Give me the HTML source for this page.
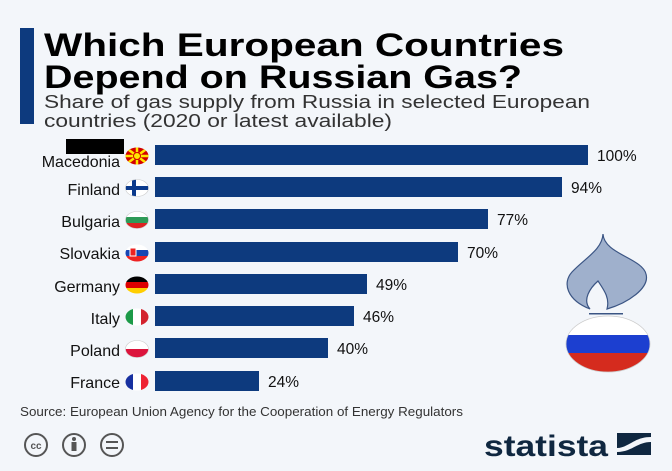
<!DOCTYPE html>
<html><head><meta charset="utf-8"><style>
html,body{margin:0;padding:0;background:#f3f6fa;}
body{width:672px;height:471px;overflow:hidden;position:relative;font-family:"Liberation Sans",sans-serif;}
</style></head><body>
<svg width="672" height="471" xmlns="http://www.w3.org/2000/svg" style="position:absolute;left:0;top:0">
<defs>
<clipPath id="e"><ellipse cx="0" cy="0" rx="11.5" ry="8.5"/></clipPath>
</defs>
<rect width="672" height="471" fill="#f3f6fa"/>
<rect x="20" y="28" width="14" height="96" fill="#0d3a7e"/>
<text x="44" y="56" font-size="32" font-weight="bold" fill="#000" textLength="520" lengthAdjust="spacingAndGlyphs">Which European Countries</text>
<text x="44" y="88" font-size="32" font-weight="bold" fill="#000" textLength="478" lengthAdjust="spacingAndGlyphs">Depend on Russian Gas?</text>
<text x="44" y="108" font-size="18.5" fill="#333" textLength="546" lengthAdjust="spacingAndGlyphs">Share of gas supply from Russia in selected European</text>
<text x="44" y="127" font-size="18.5" fill="#333" textLength="348" lengthAdjust="spacingAndGlyphs">countries (2020 or latest available)</text>
<rect x="66" y="139" width="58" height="15" fill="#000"/>
<g font-size="16" fill="#111">
<text x="120" y="167" text-anchor="end">Macedonia</text>
<text x="120" y="195" text-anchor="end">Finland</text>
<text x="120" y="227" text-anchor="end">Bulgaria</text>
<text x="120" y="259" text-anchor="end">Slovakia</text>
<text x="120" y="292" text-anchor="end">Germany</text>
<text x="120" y="324" text-anchor="end">Italy</text>
<text x="120" y="356" text-anchor="end">Poland</text>
<text x="120" y="388" text-anchor="end">France</text>
</g>
<g fill="#0d3a7e">
<rect x="155" y="145" width="433" height="20"/>
<rect x="155" y="177" width="407" height="20"/>
<rect x="155" y="209" width="333" height="20"/>
<rect x="155" y="242" width="303" height="20"/>
<rect x="155" y="274" width="212" height="20"/>
<rect x="155" y="306" width="199" height="20"/>
<rect x="155" y="338" width="173" height="20"/>
<rect x="155" y="371" width="104" height="20"/>
</g>
<g font-size="15.5" fill="#111">
<text x="597" y="161">100%</text>
<text x="571" y="193">94%</text>
<text x="497" y="225">77%</text>
<text x="467" y="258">70%</text>
<text x="376" y="290">49%</text>
<text x="363" y="322">46%</text>
<text x="337" y="354">40%</text>
<text x="268" y="387">24%</text>
</g>
<g transform="translate(137,156)"><g clip-path="url(#e)"><rect x="-12" y="-9" width="24" height="18" fill="#d20000"/><g stroke="#ffe600" stroke-width="2.5"><line x1="-12" y1="0" x2="12" y2="0"/><line x1="0" y1="-9" x2="0" y2="9"/><line x1="-12" y1="-9" x2="12" y2="9"/><line x1="-12" y1="9" x2="12" y2="-9"/></g><circle r="3.5" fill="#ffe600" stroke="#d20000"/></g></g>
<g transform="translate(137,188)"><g clip-path="url(#e)"><rect x="-12" y="-9" width="24" height="18" fill="#fff"/><rect x="-12" y="-2" width="24" height="4" fill="#0b3a8c"/><rect x="-5" y="-9" width="4" height="18" fill="#0b3a8c"/></g><ellipse rx="11.5" ry="8.5" fill="none" stroke="#ccc" stroke-width=".6"/></g>
<g transform="translate(137,220)"><g clip-path="url(#e)"><rect x="-12" y="-9" width="24" height="6" fill="#fff"/><rect x="-12" y="-3" width="24" height="6" fill="#2e9a57"/><rect x="-12" y="3" width="24" height="6" fill="#d22"/></g><ellipse rx="11.5" ry="8.5" fill="none" stroke="#ccc" stroke-width=".6"/></g>
<g transform="translate(137,253)"><g clip-path="url(#e)"><rect x="-12" y="-9" width="24" height="6" fill="#fff"/><rect x="-12" y="-3" width="24" height="6" fill="#1646b4"/><rect x="-12" y="3" width="24" height="6" fill="#e22"/><rect x="-7" y="-5" width="6" height="8" fill="#e22" stroke="#fff"/></g></g>
<g transform="translate(137,285)"><g clip-path="url(#e)"><rect x="-12" y="-9" width="24" height="6" fill="#000"/><rect x="-12" y="-3" width="24" height="6" fill="#dd0000"/><rect x="-12" y="3" width="24" height="6" fill="#ffce00"/></g></g>
<g transform="translate(137,317)"><g clip-path="url(#e)"><rect x="-12" y="-9" width="8" height="18" fill="#1c9a48"/><rect x="-4" y="-9" width="8" height="18" fill="#fff"/><rect x="4" y="-9" width="8" height="18" fill="#d3232e"/></g></g>
<g transform="translate(137,349)"><g clip-path="url(#e)"><rect x="-12" y="-9" width="24" height="9" fill="#fff"/><rect x="-12" y="0" width="24" height="9" fill="#dc143c"/></g><ellipse rx="11.5" ry="8.5" fill="none" stroke="#ccc" stroke-width=".6"/></g>
<g transform="translate(137,382)"><g clip-path="url(#e)"><rect x="-12" y="-9" width="8" height="18" fill="#1730a0"/><rect x="-4" y="-9" width="8" height="18" fill="#fff"/><rect x="4" y="-9" width="8" height="18" fill="#ee2233"/></g></g>
<path d="M603,234 C602,250 585,258 572,272 C562,283 567,300 590,309 C582,300 590,288 598,281 C604,290 610,298 607,309 C628,303 650,288 646,274 C642,258 604,254 603,234 Z" fill="#9fb0cc" stroke="#3b5584" stroke-width="1.2"/>
<rect x="589" y="313" width="34" height="1.5" fill="#3b5584"/>
<g><clipPath id="r"><ellipse cx="608" cy="344" rx="42" ry="28"/></clipPath>
<g clip-path="url(#r)"><rect x="566" y="316" width="84" height="20" fill="#fff"/><rect x="566" y="335" width="84" height="19" fill="#1c3fd0"/><rect x="566" y="353" width="84" height="20" fill="#d52b1e"/></g>
<ellipse cx="608" cy="344" rx="42" ry="28" fill="none" stroke="#ccc" stroke-width=".8"/></g>
<text x="20" y="416" font-size="13" fill="#333" textLength="443" lengthAdjust="spacingAndGlyphs">Source: European Union Agency for the Cooperation of Energy Regulators</text>
<g fill="none" stroke="#555" stroke-width="2">
<circle cx="36" cy="445" r="11"/><circle cx="74" cy="445" r="11"/><circle cx="112" cy="445" r="11"/>
</g>
<text x="36" y="449" font-size="10" font-weight="bold" fill="#555" text-anchor="middle">cc</text>
<circle cx="74" cy="439" r="2" fill="#555"/><rect x="71.5" y="442" width="5" height="9" fill="#555"/>
<rect x="106" y="441" width="12" height="2" fill="#555"/><rect x="106" y="447" width="12" height="2" fill="#555"/>
<text x="484" y="456" font-size="30" font-weight="bold" fill="#0f2740" textLength="124" lengthAdjust="spacingAndGlyphs">statista</text>
<path d="M617,433 L651,433 L651,455 L617,455 Z" fill="#0f2740"/>
<path d="M617,448 C628,448 634,437 651,437 L651,442 C637,442 632,452 617,452 Z" fill="#f3f6fa"/>
</svg>
</body></html>
